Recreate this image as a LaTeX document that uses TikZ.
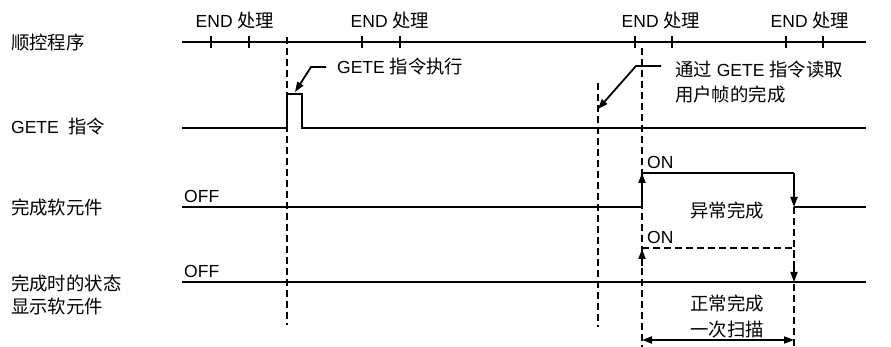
\documentclass[tikz,border=0pt]{standalone}
\usepackage{fontspec}
\setmainfont{Liberation Sans}
\newfontfamily\cjk[Scale=1.05]{Noto Sans CJK SC}
\usetikzlibrary{arrows.meta}
\begin{document}
\begin{tikzpicture}[x=1pt,y=-1pt,font=\fontsize{17.5}{20}\selectfont,
  sig/.style={line width=2pt},
  tickln/.style={line width=1.8pt},
  vdash/.style={line width=1.3pt,dash pattern=on 7pt off 4pt},
  lead/.style={line width=1.8pt},
  tip/.style={-{Triangle[length=10pt,width=7pt]}},
  dtip/.style={{Triangle[length=10pt,width=7pt]}-{Triangle[length=10pt,width=7pt]}},
  lbl/.style={inner sep=0pt,anchor=west},
  ctr/.style={inner sep=0pt,anchor=center}]
\useasboundingbox (0,0) rectangle (891,347);
% left labels
\node[lbl] (l1) at (11,43) {\cjk 顺控程序};
\node[lbl] (l2) at (11,127) {GETE\ \ {\cjk 指令}};
\node[lbl] (l3) at (11,208) {\cjk 完成软元件};
\node[lbl] (l4) at (11,283) {\cjk 完成时的状态};
\node[lbl] (l5) at (11,307) {\cjk 显示软元件};
% END labels
\node[ctr] (e1) at (235,21) {END {\cjk 处理}};
\node[ctr] (e2) at (390,21) {END {\cjk 处理}};
\node[ctr] (e3) at (661,21) {END {\cjk 处理}};
\node[ctr] (e4) at (810,21) {END {\cjk 处理}};
% sequence line
\coordinate (s0) at (182,42);
\coordinate (s1) at (866,42);
\draw[sig] (s0) -- (s1);
\foreach \xx in {211,249,362,400,635,672,786,823}
  \draw[tickln] (\xx,36) -- (\xx,48);
% dashed verticals
\draw[vdash] (287,37) -- (287,325);
\draw[vdash] (598,83) -- (598,327);
\draw[vdash] (642,48) -- (642,347);
\draw[vdash] (794,207) -- (794,347);
% GETE instruction
\draw[sig] (182,128) -- (287,128) -- (287,94) -- (302,94) -- (302,128) -- (866,128);
\node[lbl] (t1) at (337,67) {GETE {\cjk 指令执行}};
\coordinate (p1) at (326,67);
\coordinate (p1b) at (311,67);
\coordinate (p1t) at (295,92);
\draw[lead,tip] (p1) -- (p1b) -- (p1t);
\node[lbl] (t2) at (675,70) {{\cjk 通过} GETE {\cjk 指令读取}};
\node[lbl] (t3) at (675,95) {\cjk 用户帧的完成};
\coordinate (p2) at (661,66);
\coordinate (p2b) at (636,66);
\coordinate (p2t) at (598,109);
\draw[lead,tip] (p2) -- (p2b) -- (p2t);
% completion device
\draw[sig] (182,207) -- (642,207);
\draw[sig,tip] (642,207) -- (642,173);
\draw[sig] (642,173) -- (794,173);
\draw[sig,tip] (794,173) -- (794,207);
\draw[sig] (794,207) -- (866,207);
\node[lbl,anchor=south west] (off1) at (184,203) {OFF};
\node[lbl] (on1) at (647,162) {ON};
\node[ctr] (ab) at (727,211) {\cjk 异常完成};
% status device
\draw[sig] (182,282) -- (866,282);
\node[lbl,anchor=south west] (off2) at (184,278) {OFF};
\node[lbl] (on2) at (647,237) {ON};
\draw[lead,tip] (642,266) -- (642,249);
\draw[vdash] (642,248) -- (794,248) -- (794,270);
\draw[lead,tip] (794,266) -- (794,282);
\node[ctr] (nm) at (727,303) {\cjk 正常完成};
\node[ctr] (sc) at (727,330) {\cjk 一次扫描};
\coordinate (d1) at (642,340);
\coordinate (d2) at (794,340);
\draw[lead,dtip] (d1) -- (d2);
\end{tikzpicture}
\end{document}
